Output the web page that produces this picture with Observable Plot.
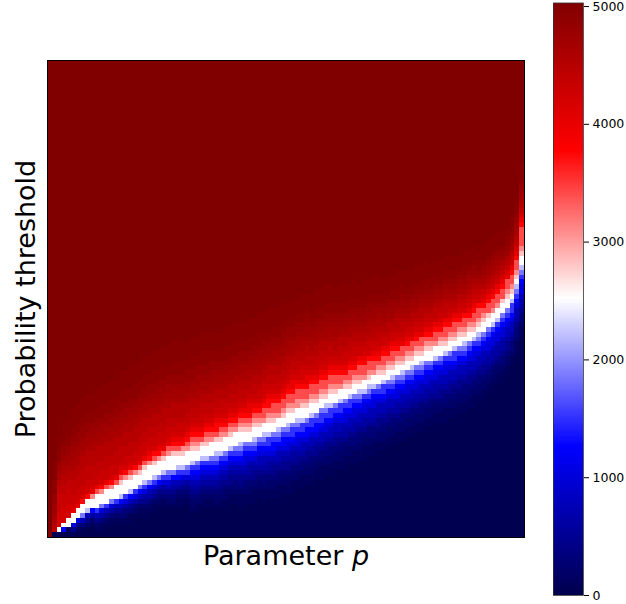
<!DOCTYPE html>
<html>
<head>
<meta charset="utf-8">
<script src="https://cdn.jsdelivr.net/npm/d3@7"></script>
<script src="https://cdn.jsdelivr.net/npm/@observablehq/plot@0.6"></script>
<style>
html,body{margin:0;padding:0;background:#fff}
#chart{position:relative;width:626px;height:604px;overflow:hidden}
#chart svg{position:absolute;left:0;top:0;background:transparent}
</style>
</head>
<body>
<div id="chart"></div>
<script>
// Height of the white ridge in each of the 100 columns, in rows.
const whiteRow = [
 -40,1,1.5,2.2,3,3.9,4.9,5.8,6.6,7.2, 7.5,8,8.4,9,9.5,10,10.5,11,11.5,12.1,
 12.8,13.3,13.9,14.4,14.8,15.2,15.6,15.8,16,16.4, 16.8,17.2,17.6,17.9,18.3,18.6,19,19.5,20,20.3,
 20.7,21,21.3,21.7,22.1,22.4,22.7,23.1,23.5,24, 24.5,25,25.4,25.8,26.2,26.7,27.2,27.8,28.3,28.7,
 29.2,29.6,30,30.5,30.9,31.3,31.7,32.2,32.6,33, 33.5,33.9,34.4,34.8,35.3,35.8,36.3,36.8,37.3,37.8,
 38.2,38.7,39.1,39.6,40,40.5,40.9,41.4,42,42.6, 43.3,44,44.8,45.7,46.7,47.8,49,50.6,53.5,58
];
// Column where each band profile starts.
const groupStart = [0,1,2,3,5,7,10,15,20,25,30,35,40,45,50,55,60,65,70,75,80,85,90,95,98,99];
// Values above the ridge, and rows above the ridge at which each begins.
const upperLevels = [2800,3100,3400,3750,4000,4200,4300,4400,4500,4600,4680,4750,4820,4900,4960,5030];
const upperRows = [
 [0,0,0,0,0,0,0,0,0,0,0,0,0,0,0,0],
 [.3,.3,.3,.3,.3,.3,.4,.5,1,2,3,4,6,8,11,15],
 [.7,.7,.7,.7,.7,1,4,8,10,11,12,13,14,15,17,20],
 [1,1,1,1,1,1.2,4,7,9,11,12.5,14,15,16.5,18,22],
 [1,1.1,1.2,1.3,1.5,2,3.5,5.5,8,10.5,12.5,14,15.5,17,19,23],
 [1.1,1.3,1.5,1.7,2,2.5,3.5,5,8,11,12.5,14,15.5,17,19,23],
 [1.2,1.5,1.8,2.2,2.7,3.2,4,6,8.5,11.5,13,14.5,16,17.5,20,24],
 [1.3,1.7,2.2,2.8,3.3,4,5,6.5,9,11.5,13.5,15,16.5,18,20.5,25],
 [1.4,2,2.5,3.1,3.7,4.5,5.5,7.5,9.5,12,13.5,15,16.5,18.5,21,25],
 [1.4,2,2.6,3.5,4.3,5.3,6.2,7.8,9.5,12,13.5,15,16.5,18.5,21,25],
 [1.3,2,2.8,3.8,4.8,5.8,6.8,8,10,12,13.5,15,16.5,18.5,21,25],
 [1.3,2,2.8,3.9,5,6,7,8.2,10,12,13.5,15,16.5,18,20.5,24.5],
 [1.2,2,3,4.2,5.2,6.3,7.3,8.5,10.2,12,13.7,15,16.5,18,20.5,24.5],
 [1.2,2,3,4.8,5.9,7,8,9.3,11,13,14.4,15.7,17,18.7,20.7,25],
 [1.2,2.1,3.3,5.2,6.3,7.6,8.8,10,11.6,13.5,15,16.2,17.5,19.5,21.5,25],
 [1.1,2,3.1,4.9,6,7.1,8.2,9.4,11,12.8,14.2,15.5,17,18.5,20.5,24.5],
 [1,1.8,2.8,4.4,5.5,6.5,7.5,8.7,10.2,12,13.3,14.5,16,17.5,19.5,23],
 [1,1.8,2.8,4.4,5.4,6.3,7.2,8.4,9.8,11.3,12.6,13.8,15,16.5,18.5,22],
 [.9,1.8,2.8,4.3,5.2,6.2,7,8.2,9.5,10.8,12,13,14.3,15.7,17.5,21],
 [.9,1.8,2.8,4.3,5.2,6,6.9,8,9.2,10.4,11.5,12.5,13.6,15,16.7,20],
 [.9,1.8,2.7,4.3,5.2,6,6.8,7.8,9,10,11,12,13,14.3,16,19],
 [.9,1.8,2.7,4.5,5.3,6.1,7,8,9,10,11,11.8,12.8,14,15.5,18.5],
 [.9,1.8,2.7,4.5,5.3,6,6.8,7.6,8.5,9.5,10.3,11,12,13,14.5,17],
 [.9,1.8,2.7,4.6,5.3,6,6.8,7.5,8.3,9,9.8,10.5,11.3,12.5,13.7,16],
 [1,2,3,5,5.8,6.5,7.3,8,9,10,10.8,11.5,12.5,13.5,15,17],
 [1.2,2,2.8,7,8,9,9.7,10.5,11.3,12.5,13.2,14,15,16,17.5,20]
];
// Values at and below the ridge, and rows below the ridge at which each begins.
const lowerLevels = [2515,2200,1850,1500,1250,1000,750,600,450,300,200,100];
const lowerRows = [
 [0,0,0,0,0,0,0,0,0,0,0,0],
 [0,0,0,0,0,0,0,0,0,0,0,0],
 [.7,.7,.7,.7,.7,.7,.7,.7,.7,.7,.7,.7],
 [.5,.6,.6,.6,.9,1,1,1,1.1,1.2,1.4,1.7],
 [.8,1,1.1,1.2,1.3,1.5,1.8,2.1,2.5,2.8,3.2,3.8],
 [1,1.2,1.4,1.6,1.8,2,2.4,2.8,3.2,3.6,4.2,5],
 [1.1,1.3,1.6,2,2.3,2.7,3.1,3.5,4,4.6,5.3,6.5],
 [1.2,1.5,1.9,2.4,2.8,3.2,3.7,4.2,4.8,5.5,6.3,7.5],
 [1.2,1.6,2,2.7,3.1,3.6,4.2,4.8,5.5,6.3,7.2,8.5],
 [1.1,1.6,2.1,2.9,3.4,4,4.7,5.4,6.2,7.1,8.2,9.5],
 [1,1.5,2.1,3,3.9,4.8,5.8,6.8,7.9,9,10.3,12],
 [1,1.5,2.2,3.2,4.2,5.2,6.3,7.4,8.6,9.9,11.3,13],
 [.9,1.4,2.2,3.3,4.4,5.5,6.7,8,9.2,10.6,12,14.3],
 [.8,1.3,2.1,3.4,4.6,5.8,7.1,8.4,9.7,11,12.7,15],
 [.8,1.3,2.1,3.5,4.8,6,7.4,8.6,10,11.5,13.2,15.5],
 [.7,1.2,2,3.4,4.7,6,7.4,8.6,10,11.5,13.2,15.5],
 [.7,1.2,1.9,3.1,4.2,5.5,7.3,8.5,9.9,11.4,13.2,15.5],
 [.7,1.2,1.9,3,4,5.3,7.1,8.3,9.7,11.1,13,15.2],
 [.7,1.2,1.9,3,4,5.3,7.1,8.3,9.7,11.1,13,15.2],
 [.7,1.2,1.9,3,4,5.3,7.1,8.3,9.7,11.1,13,15.2],
 [.7,1.2,1.9,3,4,5.3,7.1,8.3,9.7,11.1,13,15.2],
 [.7,1.2,1.9,3,4,5.3,7.1,8.3,9.7,11.1,13,15.2],
 [.7,1.2,1.9,3,4,5.3,7.1,8.3,9.7,11.1,13,15.2],
 [.7,1.2,2,3.1,4.1,5.4,7.2,8.4,9.8,11.3,13,14.7],
 [.8,1.5,2.3,3.2,4.2,5.5,7,8,9.5,11,12.5,15],
 [1,1.8,2.8,4,5,6.5,8,9.5,11,12.5,14,16]
];
const baseValue = 20;
const colorStops = [0,1257,2515,3772,5030];
const colorRange = ["#00004d","#0000ff","#ffffff","#ff0000","#800000"];
const barTicks = [0,1000,2000,3000,4000,5000];
const barValues = d3.range(0,5030,10);
const xLabel = "Parameter p", yLabel = "Probability threshold";

const cols = d3.range(100), rows = d3.range(100);
const cells = [];
for (const c of cols) {
  const g = d3.bisectRight(groupStart, c) - 1, w = whiteRow[c], h = r => r + 0.5;
  for (const r of rows) {
    let v = baseValue;
    for (let i = lowerLevels.length - 1; i >= 0; i--) if (h(r) >= w - lowerRows[g][i]) v = lowerLevels[i];
    upperLevels.forEach((l,i) => { if (h(r) >= w + upperRows[g][i]) v = l; });
    cells.push({c, r, v});
  }
}
const color = {type:"linear", domain:colorStops, range:colorRange, interpolate:"rgb"};
const chart = document.getElementById("chart");

const main = Plot.plot({
  width:626, height:604,
  marginLeft:47, marginRight:102, marginTop:60, marginBottom:67,
  style:{fontFamily:"'DejaVu Sans',sans-serif", background:"transparent"},
  x:{axis:null, domain:cols, padding:0, round:false},
  y:{axis:null, domain:rows.slice().reverse(), padding:0, round:false},
  color,
  marks:[
    Plot.cell(cells,{x:"c",y:"r",fill:"v",shapeRendering:"crispEdges"}),
    Plot.frame({stroke:"#000",strokeWidth:1}),
    Plot.text([xLabel],{text:d=>d,frameAnchor:"bottom",textAnchor:"middle",dy:19,fontSize:27,fill:"#000",lineAnchor:"middle"}),
    Plot.text([yLabel],{text:d=>d,frameAnchor:"left",textAnchor:"middle",dx:-21,rotate:-90,fontSize:27,fill:"#000",lineAnchor:"middle"})
  ]
});
chart.appendChild(main);
main.querySelectorAll("text").forEach(t => {
  if (t.textContent === xLabel) {
    const host = t.querySelector("tspan") || t;
    host.textContent = xLabel.slice(0,-1);
    const p = document.createElementNS("http://www.w3.org/2000/svg","tspan");
    p.setAttribute("font-style","italic");
    p.textContent = "p";
    host.appendChild(p);
  }
});

const bar = Plot.plot({
  width:626, height:604,
  marginLeft:553, marginRight:43, marginTop:2.5, marginBottom:9,
  style:{fontFamily:"'DejaVu Sans',sans-serif", background:"transparent"},
  x:{axis:null, domain:[0,1]},
  y:{domain:[0,5030], axis:null},
  color,
  marks:[
    Plot.rect(barValues,{x1:0,x2:1,y1:d=>d,y2:d=>d+10,fill:d=>d,shapeRendering:"crispEdges"}),
    Plot.frame({stroke:"#333",strokeWidth:0.8}),
    Plot.axisY({anchor:"right",ticks:barTicks,tickFormat:d=>String(d),tickSize:5,tickPadding:4,fontSize:12.5,label:null,color:"#000",stroke:"#000"})
  ]
});
chart.appendChild(bar);
</script>
</body>
</html>
